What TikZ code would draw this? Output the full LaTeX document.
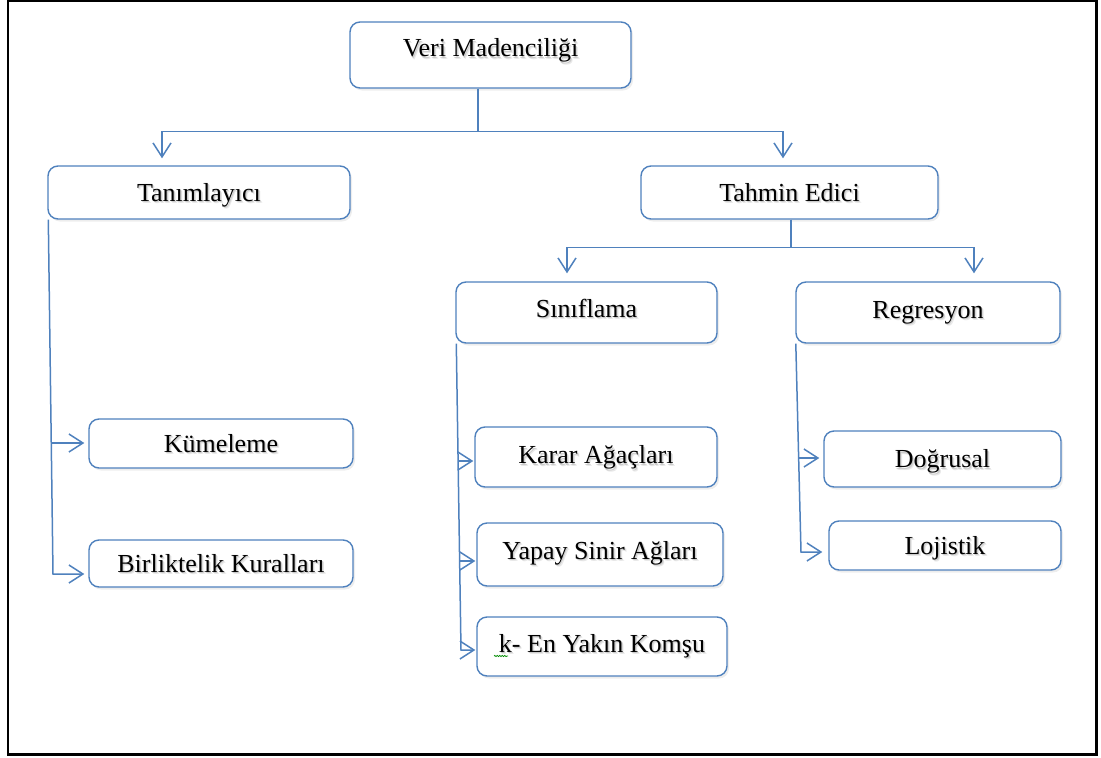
\documentclass[tikz,border=0pt]{standalone}
\usepackage{fontspec}
\setmainfont{Liberation Serif}
\usetikzlibrary{arrows.meta,calc,shadows,decorations.pathmorphing}
\definecolor{boxblue}{RGB}{79,129,189}
% label text with a soft shadow underneath
\newcommand\shadowtxt[1]{\leavevmode
  \rlap{\kern2pt\raisebox{-2.6pt}{\textcolor{black!9}{#1}}}%
  \rlap{\kern1.1pt\raisebox{-1.6pt}{\textcolor{black!20}{#1}}}%
  #1}
\begin{document}
\begin{tikzpicture}[x=1pt,y=1pt,
  box/.style={draw=boxblue, line width=1.4pt, rounded corners=10pt, fill=white,
    inner sep=0pt, font=\fontsize{26}{30}\selectfont,
    text height=20pt, text depth=2.4pt,
    drop shadow={shadow xshift=2pt, shadow yshift=-2.5pt, opacity=0.14}},
  trunk/.style={draw=boxblue, line width=1.5pt},
  conn/.style={trunk, -{Straight Barb[length=14pt,width=18pt]}}]

\useasboundingbox (0,0) rectangle (1101,-758);
\draw[line width=2.7pt] (8,-1) rectangle (1096.5,-754.5);

% boxes
\node[box, minimum width=281pt, minimum height=66pt, text depth=16.4pt] (veri) at (490.5,-55) {\shadowtxt{Veri Madenciliği}};
\node[box, minimum width=302pt, minimum height=53pt] (tanim) at (199,-192.5) {\shadowtxt{Tanımlayıcı}};
\node[box, minimum width=297pt, minimum height=53pt] (tahmin) at (789.5,-192.5) {\shadowtxt{Tahmin Edici}};
\node[box, minimum width=261pt, minimum height=61pt, text depth=10.4pt] (sinif) at (586.5,-312.5) {\shadowtxt{Sınıflama}};
\node[box, minimum width=264pt, minimum height=61pt, text depth=8.4pt] (regr) at (928,-312.5) {\shadowtxt{Regresyon}};
\node[box, minimum width=264pt, minimum height=49pt] (kume) at (221,-443.5) {\shadowtxt{Kümeleme}};
\node[box, minimum width=264pt, minimum height=47pt] (birlik) at (221,-563.5) {\shadowtxt{Birliktelik Kuralları}};
\node[box, minimum width=242pt, minimum height=60pt, text depth=6.4pt] (karar) at (596,-457) {\shadowtxt{Karar Ağaçları}};
\node[box, minimum width=246pt, minimum height=63pt, text depth=10.4pt] (yapay) at (600,-554.5) {\shadowtxt{Yapay Sinir Ağları}};
\node[box, minimum width=250pt, minimum height=59pt, text depth=8.4pt] (kenn) at (602,-646.5) {\shadowtxt{k- En Yakın Komşu}};
\node[box, minimum width=237pt, minimum height=56pt] (dogru) at (942.5,-459) {\shadowtxt{Doğrusal}};
\node[box, minimum width=232pt, minimum height=49pt] (loji) at (945,-545.5) {\shadowtxt{Lojistik}};

% spell-check squiggle under the k
\draw[green!55!black, line width=0.7pt, decorate,
  decoration={snake, amplitude=0.7pt, segment length=2.5pt}]
  ($(kenn.center)+(-108,-9.5)$) -- ++(14,0);

% first level
\draw[conn, shorten >=7pt] ([xshift=-12.5pt]veri.south) -- ++(0,-43) -| ([xshift=-37pt]tanim.north);
\draw[conn, shorten >=7pt] ([xshift=-12.5pt]veri.south) -- ++(0,-43) -| ([xshift=-6.5pt]tahmin.north);

% second level
\draw[conn, shorten >=8pt] ([xshift=1.5pt]tahmin.south) -- ++(0,-28) -| ([xshift=-19.5pt]sinif.north);
\draw[conn, shorten >=8pt] ([xshift=1.5pt]tahmin.south) -- ++(0,-28) -| ([xshift=46pt]regr.north);

% Tanımlayıcı branches
\coordinate (tk) at (51.5,-443);
\coordinate (tb) at (53,-574);
\draw[conn, shorten >=4pt] (tk) -- (tk -| kume.west);
\draw[conn, shorten >=4pt] ([xshift=1pt]tanim.south west) -- (tb) -- (tb -| birlik.west);

% Sınıflama branches
\coordinate (sa) at (458.5,-461);
\coordinate (sb) at (459.8,-561);
\coordinate (sc) at (461,-650);
\draw[conn, shorten >=1pt] (sa) -- (sa -| karar.west);
\draw[conn, shorten >=1pt] (sb) -- (sb -| yapay.west);
\draw[conn, shorten >=1pt] ([xshift=1pt]sinif.south west) -- (sc) -- (sc -| kenn.west);

% Regresyon branches
\coordinate (ra) at (799,-458);
\coordinate (rb) at (801,-552);
\draw[conn, shorten >=4pt] (ra) -- (ra -| dogru.west);
\draw[conn, shorten >=6pt] ([xshift=0.5pt]regr.south west) -- (rb) -- (rb -| loji.west);

\end{tikzpicture}
\end{document}
